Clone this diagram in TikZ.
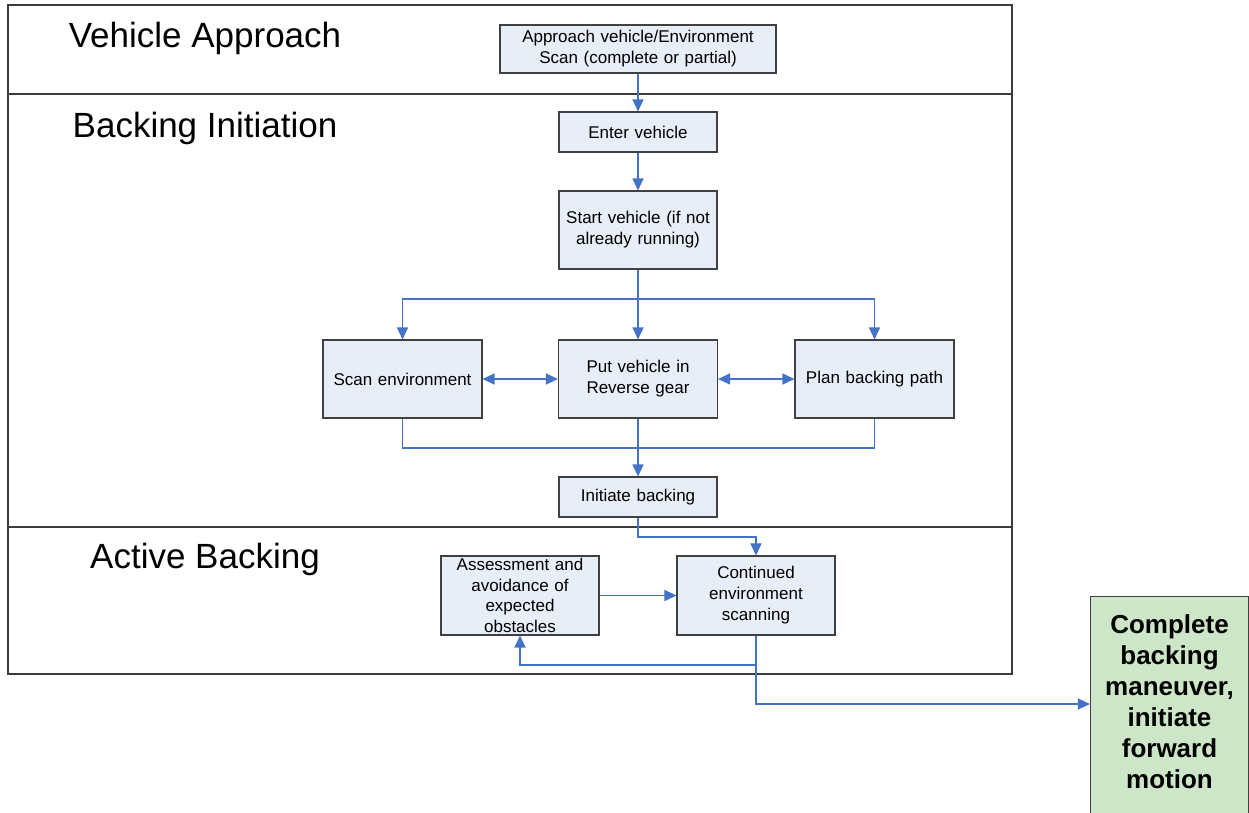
\documentclass[tikz,border=0pt]{standalone}
\usepackage{fontspec}
\setmainfont{Liberation Sans}
\usetikzlibrary{arrows.meta}
\definecolor{boxfill}{RGB}{232,238,247}
\definecolor{boxline}{RGB}{64,64,64}
\definecolor{flowblue}{RGB}{68,114,196}
\definecolor{donefill}{RGB}{205,230,199}
\definecolor{frameline}{RGB}{60,60,60}
\begin{document}
\begin{tikzpicture}[x=1pt,y=-1pt,
  stepbox/.style={draw=boxline, fill=boxfill, line width=1.1pt, inner sep=0pt,
    align=center, text width=150pt, font=\fontsize{17}{21}\selectfont},
  donebox/.style={draw=boxline, fill=donefill, line width=1.1pt, inner sep=0pt},
  donetext/.style={inner sep=0pt, align=center, text width=150pt,
    font=\fontsize{26}{31}\selectfont\bfseries},
  heading/.style={anchor=base, inner sep=0pt, font=\fontsize{35}{40}\selectfont},
  wire/.style={draw=flowblue, line width=1.2pt},
  flow/.style={wire, -{Triangle[length=12pt,width=11pt]}},
  twoway/.style={wire, {Triangle[length=12pt,width=11pt]}-{Triangle[length=12pt,width=11pt]}},
  lane/.style={draw=frameline, line width=1.2pt}]
\useasboundingbox (0,0) rectangle (1249,812);

% swimlane frame
\draw[lane] (8,5) rectangle (1012,674);
\draw[lane] (8,94) -- (1012,94);
\draw[lane] (8,527) -- (1012,527);

% lane titles
\node[heading] (laneA) at (205,47) {Vehicle Approach};
\node[heading] (laneB) at (205,137) {Backing Initiation};
\node[heading] (laneC) at (205,568) {Active Backing};

% process steps
\node[stepbox, minimum width=276pt, minimum height=48pt, text width=270pt] (approach) at (638,49)
  {Approach vehicle/Environment\\Scan (complete or partial)};
\node[stepbox, minimum width=158pt, minimum height=40pt] (enter) at (638,132) {Enter vehicle};
\node[stepbox, minimum width=158pt, minimum height=78pt] (start) at (638,230)
  {Start vehicle (if not\\already running)};
\node[stepbox, minimum width=159pt, minimum height=78pt] (scan) at (402.5,379) {Scan environment};
\node[stepbox, minimum width=159pt, minimum height=78pt] (put) at (638,379) {Put vehicle in\\Reverse gear};
\node[stepbox, minimum width=159pt, minimum height=78pt] (plan) at (874.5,379) {Plan backing path};
\node[stepbox, minimum width=158pt, minimum height=40pt] (initiate) at (638,497) {Initiate backing};
\node[stepbox, minimum width=158pt, minimum height=79pt, font=\fontsize{17}{20.5}\selectfont] (assess) at (520,595.5)
  {Assessment and\\avoidance of\\expected\\obstacles};
\node[stepbox, minimum width=158pt, minimum height=79pt] (cont) at (756,595.5)
  {Continued\\environment\\scanning};

% final step: the box runs past the lower edge of the page
\node[donebox, minimum width=158pt, minimum height=240pt, anchor=north] (done) at (1169.5,596) {};
\node[donetext] (donelabel) at (1169.5,702)
  {Complete\\backing\\maneuver,\\initiate\\forward\\motion};

% routing points
\coordinate (fork) at (638,299);
\coordinate (join) at (638,448);
\coordinate (bend) at (638,537);
\coordinate (loop) at (756,665);
\coordinate (exit) at (756,704);

% connectors
\draw[flow] (approach) -- (enter);
\draw[flow] (enter) -- (start);
\draw[flow] (start.south) -- (put.north);
\draw[flow] (fork) -| (scan.north);
\draw[flow] (fork) -| (plan.north);
\draw[twoway] (scan) -- (put);
\draw[twoway] (put) -- (plan);
\draw[wire] (scan.south) |- (join);
\draw[wire] (plan.south) |- (join);
\draw[flow] (put.south) -- (initiate.north);
\draw[flow] (initiate.south) -- (bend) -| (cont.north);
\draw[flow] (assess.east) -- (cont.west);
\draw[flow] (cont.south) -- (loop) -| (assess.south);
\draw[flow] (loop) -- (exit) -- (exit -| done.west);
\end{tikzpicture}
\end{document}
